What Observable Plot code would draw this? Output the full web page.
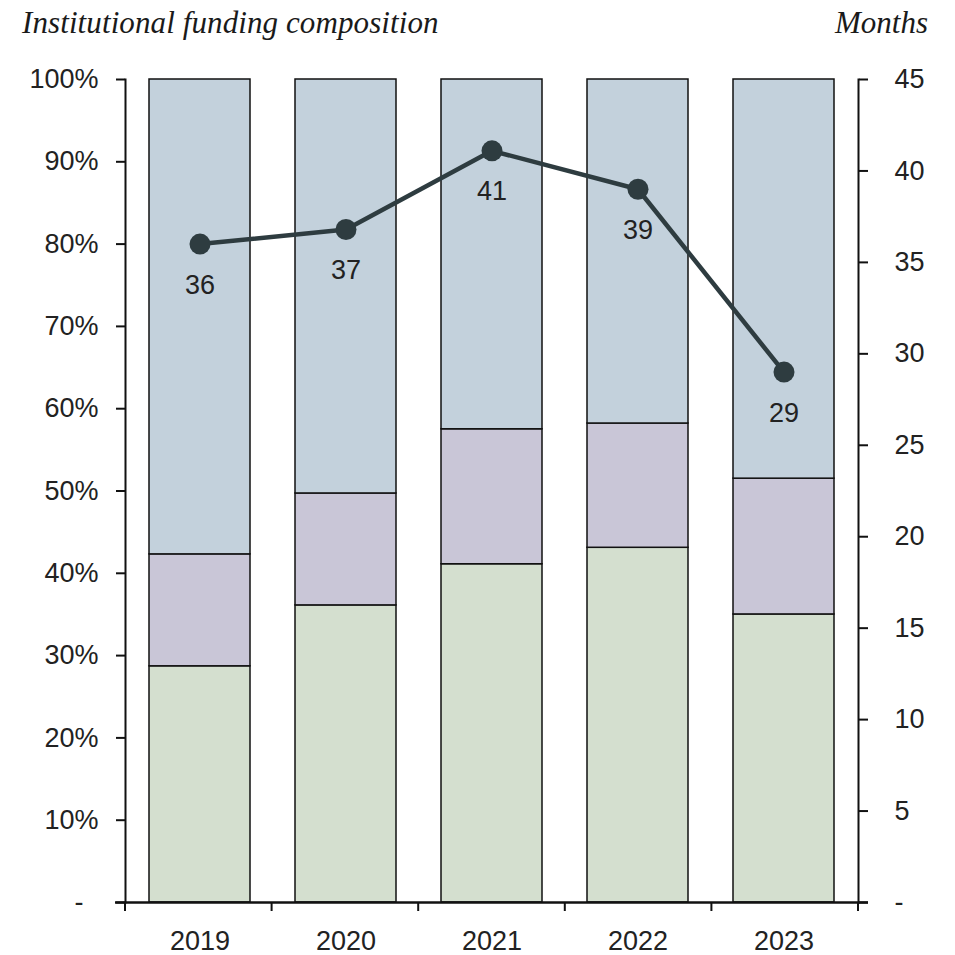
<!DOCTYPE html>
<html>
<head>
<meta charset="utf-8">
<script src="https://cdn.jsdelivr.net/npm/d3@7"></script>
<script src="https://cdn.jsdelivr.net/npm/@observablehq/plot@0.6"></script>
<style>
  body { margin: 0; background: #fff; }
  #wrap { position: relative; width: 955px; height: 955px; }
  .hdr { position: absolute; top: 7px; font-family: "Liberation Serif", serif; font-style: italic; font-size: 31px; line-height: 31px; color: #1a1a1a; white-space: nowrap; }
  #title { left: 22px; letter-spacing: 0.1px; }
  #months { right: 27px; }
  #chart { position: absolute; left: 0; top: 0; }
</style>
</head>
<body>
<div id="wrap">
  <div id="chart"></div>
  <div class="hdr" id="title">Institutional funding composition</div>
  <div class="hdr" id="months">Months</div>
</div>
<script>
const years = ["2019", "2020", "2021", "2022", "2023"];
const segments = ["Segment A", "Segment B", "Segment C"]; // bottom → top
const segmentColors = ["#d4dfcf", "#c9c6d7", "#c3d1dc"];
const segA = [28.7, 36.1, 41.1, 43.1, 35.0];
const segB = [13.6, 13.6, 16.4, 15.1, 16.5];
const segC = [57.7, 50.3, 42.5, 41.8, 48.5];
const months = [36.0, 36.8, 41.1, 39.0, 29.0];
const monthsMax = 45;
const leftTicks = [0, 0.1, 0.2, 0.3, 0.4, 0.5, 0.6, 0.7, 0.8, 0.9, 1.0];
const rightTicks = [0, 5, 10, 15, 20, 25, 30, 35, 40, 45];

const W = 955, H = 955;
const mL = 125, mR = 97, mT = 79, mB = 53;

const bars = [];
[segA, segB, segC].forEach((arr, si) => {
  arr.forEach((v, i) => bars.push({year: years[i], segment: segments[si], value: v / 100}));
});
const line = years.map((y, i) => ({year: y, months: months[i]}));

const font = "Liberation Sans, Arial, sans-serif";
const ink = "#222";
const lineColor = "#2e3c40";

// category-boundary ticks under the x axis
function boundaryTicks(index, scales, values, dim) {
  const g = d3.create("svg:g").attr("aria-label", "x-boundary-ticks");
  const n = years.length;
  const plotW = dim.width - dim.marginLeft - dim.marginRight;
  const y0 = scales.y(0);
  for (let i = 0; i <= n; i++) {
    const x = dim.marginLeft + (i * plotW) / n;
    g.append("line").attr("x1", x).attr("x2", x).attr("y1", y0).attr("y2", y0 + 9)
      .attr("stroke", "#111").attr("stroke-width", 2);
  }
  return g.node();
}

const chart = Plot.plot({
  width: W, height: H,
  marginLeft: mL, marginRight: mR, marginTop: mT, marginBottom: mB,
  style: {fontFamily: font, fontSize: "27px", color: ink, background: "transparent"},
  x: {type: "band", domain: years, paddingInner: 0.311, paddingOuter: 0.1555, axis: null, label: null},
  y: {domain: [0, 1], axis: null, label: null},
  color: {domain: segments, range: segmentColors},
  marks: [
    Plot.barY(bars, {x: "year", y: "value", fill: "segment", stroke: "#111", strokeWidth: 1.5,
      order: segments}),
    Plot.axisX({tickSize: 0, tickPadding: 28, fontSize: 27, fill: ink, label: null}),
    boundaryTicks,
    Plot.axisY(leftTicks, {anchor: "left", tickSize: 9, tickPadding: 18, fontSize: 27, fill: ink,
      stroke: "#111", strokeWidth: 2, label: null,
      tickFormat: d => d === 0 ? "-\u00a0\u00a0" : Math.round(d * 100) + "%"}),
    Plot.axisY(rightTicks.map(v => v / monthsMax), {anchor: "right", tickSize: 9, tickPadding: 27,
      fontSize: 27, fill: ink, stroke: "#111", strokeWidth: 2, textAnchor: "start", label: null,
      tickFormat: d => d === 0 ? "-" : String(Math.round(d * monthsMax))}),
    Plot.frame({anchor: "left", stroke: "#111", strokeWidth: 2}),
    Plot.frame({anchor: "right", stroke: "#111", strokeWidth: 2}),
    Plot.ruleY([0], {stroke: "#111", strokeWidth: 2.5, insetLeft: -10, insetRight: -10}),
    Plot.line(line, {x: "year", y: d => d.months / monthsMax, stroke: lineColor, strokeWidth: 4.5}),
    Plot.dot(line, {x: "year", y: d => d.months / monthsMax, r: 10.5, fill: lineColor}),
    Plot.text(line, {x: "year", y: d => d.months / monthsMax, text: d => String(Math.round(d.months)),
      dy: 41, fontSize: 27, fill: ink})
  ]
});
document.getElementById("chart").appendChild(chart);
</script>
</body>
</html>
